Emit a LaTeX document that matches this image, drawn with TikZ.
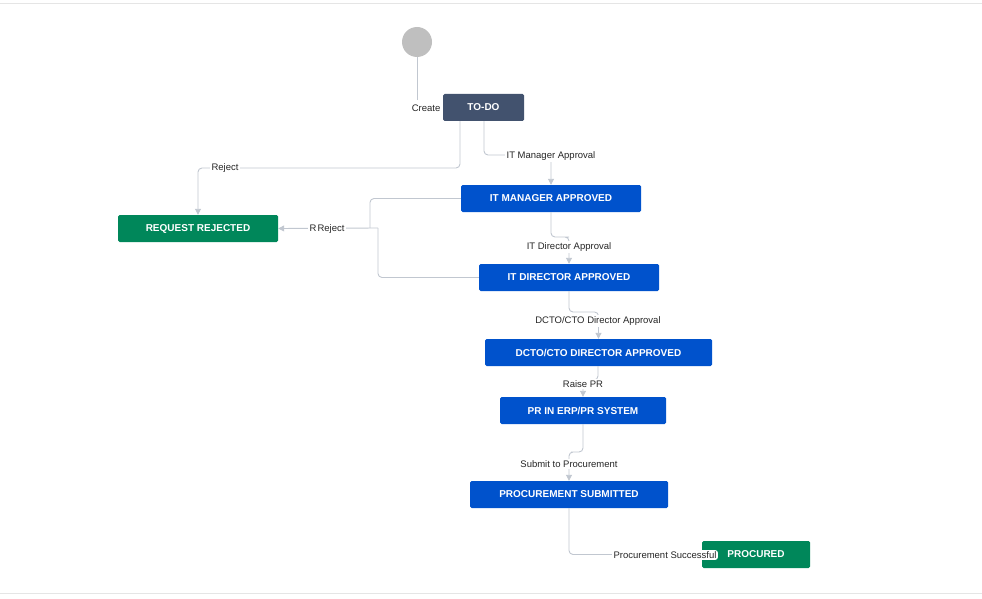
\documentclass[tikz,border=0pt]{standalone}
\usepackage{fontspec}
\setmainfont{Liberation Sans}
\usetikzlibrary{arrows.meta}
\definecolor{todo}{HTML}{42526E}
\definecolor{prog}{HTML}{0052CC}
\definecolor{done}{HTML}{00875A}
\definecolor{edge}{HTML}{C1C7D0}
\tikzstyle{state} = [rounded corners=1.5pt,text=white,font=\fontsize{10}{12}\selectfont\bfseries,minimum height=27,inner sep=0pt]
\tikzstyle{trans} = [draw=edge,line width=0.9pt,rounded corners=4pt]
\tikzstyle{arrow} = [trans,-{Triangle[width=6pt,length=6pt]}]
\tikzstyle{lbl} = [fill=white,font=\fontsize{9.5}{11}\selectfont,text=black!85,inner sep=1.5pt]
\begin{document}
\begin{tikzpicture}[x=1pt,y=-1pt]
\useasboundingbox (0,0) rectangle (982,599);
\draw[black!10] (0,3)--(982,3) (0,593)--(982,593);
% states
\node[circle,fill=black!25,minimum size=30,inner sep=0pt](start) at (417,42){};
\node[state,fill=todo,minimum width=81](todo) at (483.5,107.5){TO-DO};
\node[state,fill=prog,minimum width=180](mgr) at (551,198.5){IT MANAGER APPROVED};
\node[state,fill=done,minimum width=160](rej) at (198,228.5){REQUEST REJECTED};
\node[state,fill=prog,minimum width=180](dir) at (569,277.5){IT DIRECTOR APPROVED};
\node[state,fill=prog,minimum width=227](cto) at (598.5,352.5){DCTO/CTO DIRECTOR APPROVED};
\node[state,fill=prog,minimum width=166](pr) at (583,410.5){PR IN ERP/PR SYSTEM};
\node[state,fill=prog,minimum width=198](sub) at (569,494.5){PROCUREMENT SUBMITTED};
\node[state,fill=done,minimum width=108](proc) at (756,554.5){PROCURED};
% transitions
\coordinate (c1) at (417,100);
\draw[trans] (start.south)--(c1);
\node[lbl,anchor=east](create) at (442,108){Create};
\draw[arrow] (todo.south -| 460,0)|-(300,168)-|(rej.north);
\node[lbl](r1) at (225,168){Reject};
\draw[arrow] (todo.south -| 484,0)|-(545,155)-|(mgr.north);
\node[lbl](a1) at (551,156){IT Manager Approval};
\draw[trans] (mgr.west)-|(370,228);
\draw[trans] (dir.west)-|(378,228);
\draw[arrow] (378,228)--(rej.east);
\node[lbl](r2) at (323,229){Reject};
\node[lbl](r3) at (331,229){Reject};
\draw[arrow] (mgr.south)|-(565,237)-|(dir.north);
\node[lbl](a2) at (569,247){IT Director Approval};
\draw[arrow] (dir.south)|-(590,312)-|(cto.north);
\node[lbl](a3) at (598,321){DCTO/CTO Director Approval};
\draw[arrow] (cto.south -| 598,0)|-(590,380)-|(pr.north);
\node[lbl](a4) at (583,384){Raise PR};
\draw[arrow] (pr.south)|-(575,452)-|(sub.north);
\node[lbl](a5) at (569,464){Submit to Procurement};
\draw[arrow] (sub.south)|-(proc.west);
\node[lbl,rounded corners=3pt](a6) at (665,555){Procurement Successful};
\end{tikzpicture}
\end{document}
